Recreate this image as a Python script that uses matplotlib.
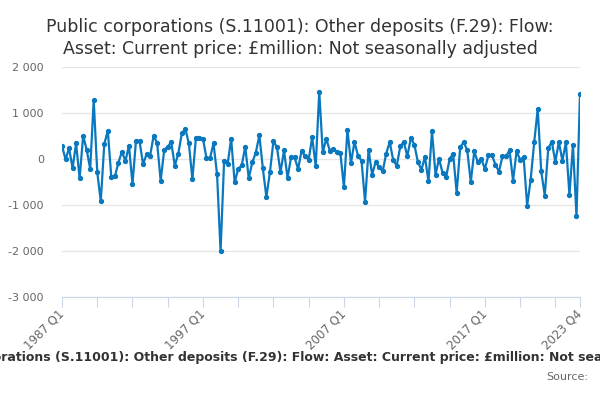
import numpy as np
import matplotlib.pyplot as plt

# quarterly values, 1987 Q1 .. 2023 Q4 (£million)
years = list(range(1987, 2024))
quarters = [f"{y} Q{q}" for y in years for q in range(1, 5)]
values = [
    290, -10, 235, -200, 340, -420, 505, 200, -215, 1280,
    -285, -920, 325, 615, -400, -380, -80, 160, -45, 290,
    -540, 400, 395, -115, 105, 70, 505, 350, -475, 195,
    270, 365, -145, 115, 555, 655, 340, -440, 465, 465,
    440, 20, 20, 340, -330, -2010, -40, -115, 445, -510,
    -215, -140, 265, -420, -75, 140, 515, -205, -828, -290,
    390, 252, -290, 188, -413, 36, 36, -217, 181, 58,
    -14, 471, -160, 1460, 145, 442, 181, 225, 145, 130,
    -616, 638, -87, 370, 72, -36, -935, 203, -340, -65,
    -174, -268, 116, 370, -29, -145, 275, 370, 58, 457,
    312, -72, -232, 43, -486, 601, -340, 7, -304, -399,
    0, 116, -739, 254, 370, 188, -500, 167, -72, 7,
    -217, 80, 80, -123, -275, 58, 58, 188, -471, 167,
    -14, 43, -1014, -449, 362, 1087, -268, -797, 239, 370,
    -58, 370, -36, 362, -783, 304, -1246, 1420,
]
tick_idx = list(range(0, 141, 10)) + [147]
label_idx = [0, 40, 80, 120, 147]
yticks = [-3000, -2000, -1000, 0, 1000, 2000]

blue = '#0a78be'
grey_txt = '#666666'

fig = plt.figure(figsize=(6, 4), dpi=100)
ax = fig.add_axes([62 / 600, 1 - 297 / 400, 518 / 600, 230 / 400])

x = np.arange(len(values))
ax.plot(x, values, color=blue, lw=1.6, marker='o', ms=2.8, zorder=3)

ax.set_ylim(-3000, 2000)
ax.set_xlim(0, len(values) - 1)
ax.set_yticks(yticks)
ax.set_yticklabels([f"{v:,}".replace(",", " ") for v in yticks],
                   fontsize=8, color=grey_txt)
ax.grid(axis='y', color='#e6e6e6', lw=1)
ax.set_axisbelow(True)

ax.set_xticks(tick_idx)
ax.set_xticklabels([quarters[i] if i in label_idx else "" for i in tick_idx],
                   fontsize=8.5, color=grey_txt)
ax.tick_params(axis='x', length=7.5, color='#ccd6eb', pad=3)
ax.tick_params(axis='y', length=0, pad=13)
plt.setp(ax.get_xticklabels(), rotation=45, ha='right', va='center',
         rotation_mode='anchor')

for s in ['top', 'right', 'left']:
    ax.spines[s].set_visible(False)
ax.spines['bottom'].set_color('#ccd6eb')

fig.text(0.5, 0.955,
         "Public corporations (S.11001): Other deposits (F.29): Flow:\n"
         "Asset: Current price: £million: Not seasonally adjusted",
         ha='center', va='top', fontsize=12.5, color='#333333', linespacing=1.3)
fig.text(0.527, 1 - 357 / 400,
         "Public corporations (S.11001): Other deposits (F.29): Flow: Asset: "
         "Current price: £million: Not seasonally adjusted",
         ha='center', va='center', fontsize=9, fontweight='bold', color='#333333')
fig.text(588 / 600, 1 - 377 / 400, "Source:", ha='right', va='center',
         fontsize=8, color=grey_txt)

fig.savefig('out.png', dpi=100)
